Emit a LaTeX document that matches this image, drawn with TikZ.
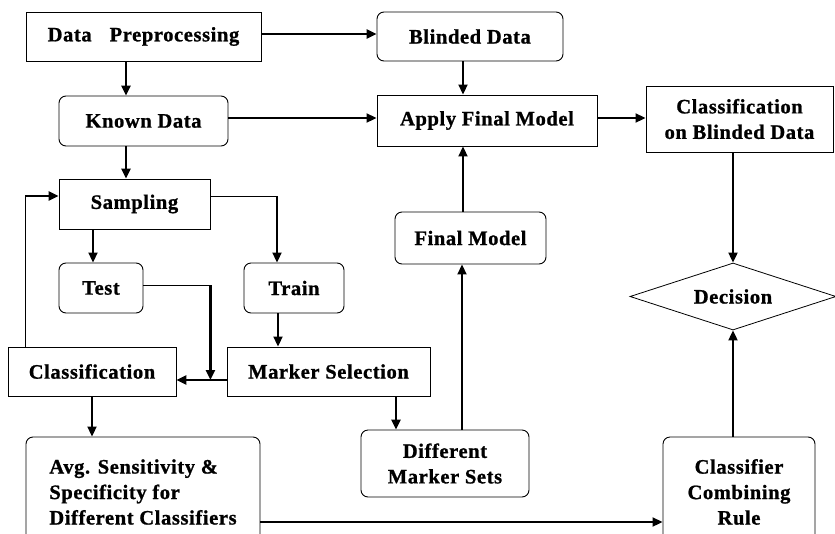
\documentclass[tikz,border=0pt]{standalone}
\usepackage{fontspec}
\setmainfont{Liberation Serif}[LetterSpace=3, BoldFeatures={FakeBold=1}]
\usetikzlibrary{arrows.meta,shapes.geometric}
\begin{document}
\begin{tikzpicture}[x=1pt,y=-1pt,
  sq/.style={draw, line width=0.9pt, inner sep=0pt, align=center,
    font=\bfseries\fontsize{20.5}{25.5}\selectfont},
  rd/.style={sq, rounded corners=7pt},
  arr/.style={-{Triangle[length=10pt,width=9pt]}},
  thk/.style={line width=2.6pt},
  med/.style={line width=1.9pt},
  thn/.style={line width=1pt}]
\useasboundingbox (0,0) rectangle (835,533);
\clip (0,0) rectangle (835,533);

% boxes
\node[sq, minimum width=235, minimum height=49] (dp) at (143.5,36.5) {Data\hspace{18pt}Preprocessing};
\node[rd, minimum width=186, minimum height=49] (bd) at (470,36.5) {Blinded Data};
\node[rd, minimum width=169, minimum height=50] (kd) at (143.5,121) {Known Data};
\node[sq, minimum width=220, minimum height=51] (afm) at (487,120.5) {Apply Final Model};
\node[sq, minimum width=187, minimum height=66] (cbd) at (739.5,119) {Classification\\on Blinded Data};
\node[rd, minimum width=151, minimum height=52] (fm) at (470.5,238) {Final Model};
\node[sq, minimum width=151, minimum height=50] (smp) at (134.5,204) {Sampling};
\node[rd, minimum width=84, minimum height=50] (tst) at (101,288) {Test};
\node[rd, minimum width=100, minimum height=50] (trn) at (294,288) {Train};
\node[sq, minimum width=168, minimum height=49] (cls) at (92,371.5) {Classification};
\node[sq, minimum width=203, minimum height=49] (ms) at (328.5,371.5) {Marker Selection};
\node[rd, minimum width=168, minimum height=67] (dms) at (445,463.5) {Different\\Marker Sets};
\node[rd, minimum width=234, minimum height=110, align=left] (avg) at (143,492) {Avg. Sensitivity \&\\Specificity for\\Different Classifiers};
\node[rd, minimum width=152, minimum height=110] (ccr) at (739,492) {Classifier\\Combining\\Rule};
\node[diamond, draw, line width=0.8pt, inner sep=0pt, aspect=3,
  minimum width=206, minimum height=67,
  font=\bfseries\fontsize{20.5}{25.5}\selectfont] (dec) at (733,296.5) {Decision};

% top row and model path
\draw[thk,arr] ([yshift=2.5pt]dp.east) coordinate (a0) -- (a0 -| bd.west);
\draw[thk,arr] ([xshift=-17.5pt]dp.south) coordinate (a1) -- (a1 |- kd.north);
\draw[med,arr] ([yshift=3pt]kd.east) coordinate (a2) -- (a2 -| afm.west);
\draw[med,arr] ([xshift=-7pt]bd.south) coordinate (a3) -- (a3 |- afm.north);
\draw[med,arr] ([yshift=2.5pt]afm.east) coordinate (a4) -- (a4 -| cbd.west);
\draw[med,arr] ([xshift=-7.5pt]fm.north) coordinate (a5) -- (a5 |- afm.south);
\draw[med,arr] (dec.north |- cbd.south) -- (dec.north);
\draw[med,arr] (dec.south |- ccr.north) -- (dec.south);
\draw[med,arr] ([yshift=-30pt]avg.east) coordinate (a6) -- (a6 -| ccr.west);
\coordinate (a7) at ([xshift=-8.5pt]fm.south);
\draw[med,arr] (a7 |- dms.north) -- (a7);
\draw[thk,arr] ([xshift=67.5pt]ms.south) coordinate (a8) -- (a8 |- dms.north);

% sampling loop
\draw[thk,arr] ([xshift=-17.5pt]kd.south) coordinate (a11) -- (a11 |- smp.north);
\coordinate (a12) at ([xshift=-8pt]tst.north);
\draw[med,arr] (a12 |- smp.south) -- (a12);
\coordinate (se) at ([yshift=8pt]smp.east);
\coordinate (a13) at ([xshift=-17pt]trn.north);
\draw[thn] (se) -- (se -| a13) coordinate (tk);
\draw[med,arr] (tk) -- (a13);
\draw[med,arr] ([xshift=-16pt]trn.south) coordinate (a9) -- (a9 |- ms.north);
\draw[thn] ([yshift=3pt]tst.east) coordinate (a10) -- (a10 -| smp.east) coordinate (tj);
\coordinate (msw) at ([yshift=-8.5pt]ms.west);
\draw[thk,arr] (tj) -- (tj |- msw);
\draw[thk,arr] (msw) -- (msw -| cls.east);
\draw[med,arr] (cls.south) -- (cls.south |- avg.north);
\coordinate (sw) at ([yshift=8pt]smp.west);
\draw[thn] ([xshift=-67pt]cls.north) coordinate (fb) -- (fb |- sw) coordinate (fbt);
\draw[thk,arr] (fbt) -- (sw);
\end{tikzpicture}
\end{document}
